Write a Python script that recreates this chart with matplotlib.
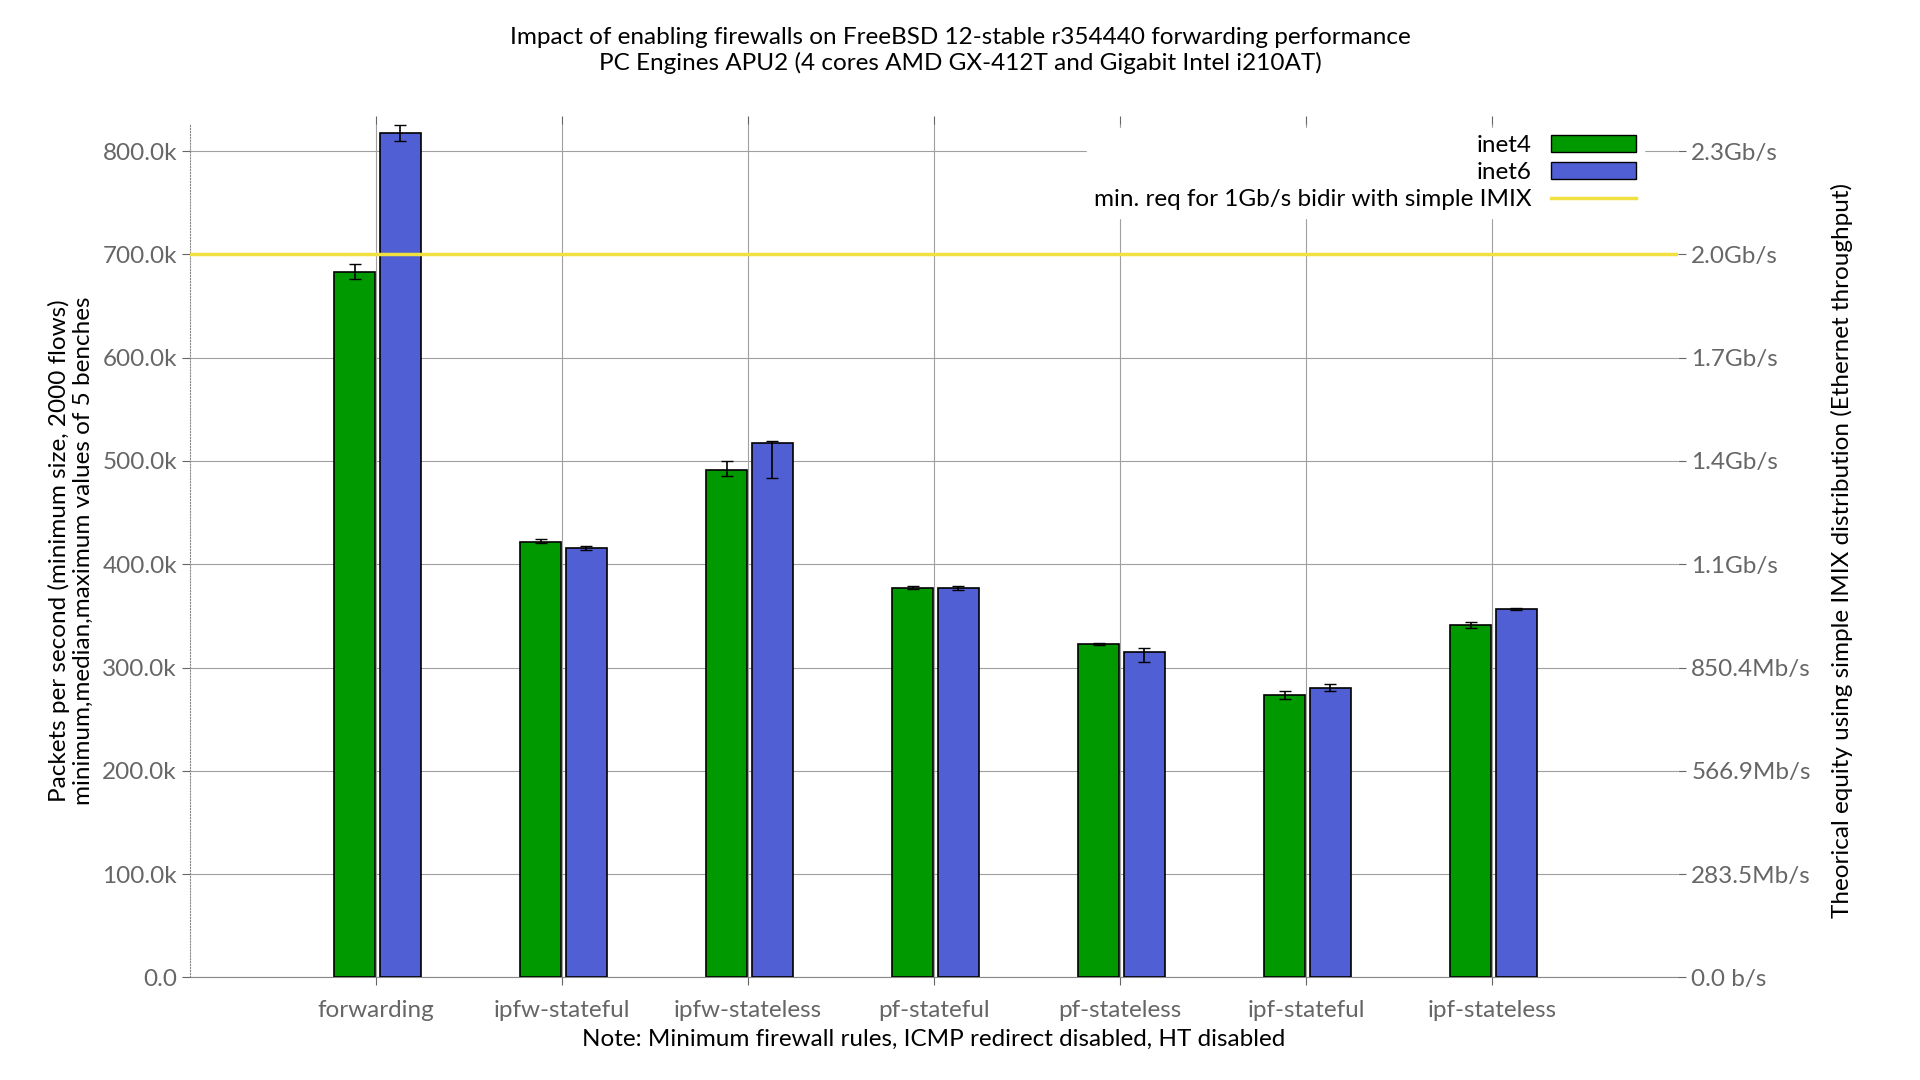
import matplotlib
matplotlib.use("Agg")
import matplotlib.pyplot as plt
from matplotlib.patches import Patch
from matplotlib.lines import Line2D
import numpy as np

plt.rcParams['font.family'] = ['Lato', 'DejaVu Sans']

categories = ["forwarding", "ipfw-stateful", "ipfw-stateless", "pf-stateful",
              "pf-stateless", "ipf-stateful", "ipf-stateless"]
inet4_med = [683, 422, 491, 377, 323, 273, 341]
inet4_min = [676, 421, 485, 376, 322, 270, 338]
inet4_max = [691, 424, 500, 379, 324, 277, 344]
inet6_med = [817, 416, 517, 377, 315, 280, 357]
inet6_min = [810, 414, 483, 375, 305, 277, 356]
inet6_max = [825, 418, 519, 379, 319, 284, 358]
imix_req = 700
yticks = [0, 100, 200, 300, 400, 500, 600, 700, 800]
ylabels = ["0.0", "100.0k", "200.0k", "300.0k", "400.0k", "500.0k", "600.0k", "700.0k", "800.0k"]
rlabels = ["0.0 b/s", "283.5Mb/s", "566.9Mb/s", "850.4Mb/s", "1.1Gb/s",
           "1.4Gb/s", "1.7Gb/s", "2.0Gb/s", "2.3Gb/s"]

fs = 17.5
fig = plt.figure(figsize=(19.2, 10.8), dpi=100)
ax = fig.add_axes([0.099, 0.095, 0.775, 0.79])
x = np.arange(len(categories))
w = 0.22
m4 = np.array(inet4_med); m6 = np.array(inet6_med)
ax.bar(x - 0.115, m4, w, color="#009900", edgecolor="black", linewidth=1.2, zorder=3)
ax.bar(x + 0.13, m6, w, color="#5060d4", edgecolor="black", linewidth=1.2, zorder=3)
ax.errorbar(x - 0.115, m4, yerr=[m4 - np.array(inet4_min), np.array(inet4_max) - m4],
            fmt="none", ecolor="black", capsize=4, lw=1.2, zorder=4)
ax.errorbar(x + 0.13, m6, yerr=[m6 - np.array(inet6_min), np.array(inet6_max) - m6],
            fmt="none", ecolor="black", capsize=4, lw=1.2, zorder=4)
ax.axhline(imix_req, color="#f0e040", lw=2.5, zorder=5)

ax.set_xlim(-1, 7)
ax.set_ylim(0, 826)
ax.set_yticks(yticks)
ax.set_yticklabels(ylabels)
ax.set_xticks(x)
ax.set_xticklabels(categories)
ax.grid(True, color="#a0a0a0", lw=0.8, zorder=0)
for s in ["top", "right"]:
    ax.spines[s].set_visible(False)
ax.spines["left"].set_linestyle(":")
ax.spines["left"].set_color("#888888")
ax.spines["bottom"].set_color("#888888")
ax.tick_params(colors="#666666", labelsize=fs, length=6)
ax.tick_params(axis="x", top=True, pad=10)
ax.set_ylabel("Packets per second (minimum size, 2000 flows)\nminimum,median,maximum values of 5 benches",
              fontsize=fs, labelpad=6)
ax.set_xlabel("Note: Minimum firewall rules, ICMP redirect disabled, HT disabled", fontsize=fs, labelpad=6)

ax2 = ax.twinx()
ax2.set_ylim(ax.get_ylim())
ax2.set_yticks(yticks)
ax2.set_yticklabels(rlabels)
for s in ["top", "left", "bottom", "right"]:
    ax2.spines[s].set_visible(False)
ax2.tick_params(colors="#666666", labelsize=fs, length=6)
ax2.set_ylabel("Theorical equity using simple IMIX distribution (Ethernet throughput)", fontsize=fs,
               labelpad=14)

handles = [Patch(facecolor="#009900", edgecolor="black"),
           Patch(facecolor="#5060d4", edgecolor="black"),
           Line2D([], [], color="#f0e040", lw=2.5)]
leg = ax2.legend(handles, ["inet4", "inet6", "min. req for 1Gb/s bidir with simple IMIX"],
                 loc="upper right", bbox_to_anchor=(0.985, 1.01), markerfirst=False, frameon=True,
                 fontsize=fs, handlelength=3.5, labelspacing=0.25, borderpad=0.3)
leg.get_frame().set_edgecolor("white")
leg.get_frame().set_alpha(1)
leg.set_zorder(10)

fig.suptitle("Impact of enabling firewalls on FreeBSD 12-stable r354440 forwarding performance\n"
             "PC Engines APU2 (4 cores AMD GX-412T and Gigabit Intel i210AT)", fontsize=fs, y=0.975)
fig.savefig("out.png", dpi=100)
